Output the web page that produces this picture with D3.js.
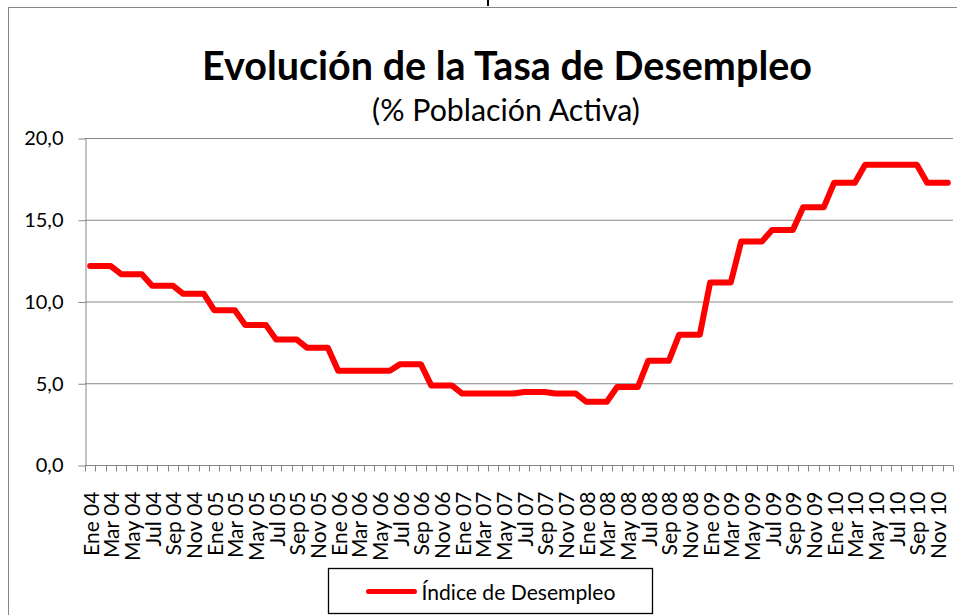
<!DOCTYPE html>
<html>
<head>
<meta charset="utf-8">
<script src="https://cdn.jsdelivr.net/npm/d3@7"></script>
<style>
    body { margin: 0; background: #fff; }
    svg { display: block; font-family: Lato, "Open Sans", sans-serif; }
</style>
</head>
<body>
<svg id="drawing_region"></svg>
<script>
// datos
const months = ["Ene","Feb","Mar","Abr","May","Jun","Jul","Ago","Sep","Oct","Nov","Dic"];
const years = ["04","05","06","07","08","09","10"];
const desempleo = [
    12.2, 12.2, 12.2, 11.7, 11.7, 11.7, 11.0, 11.0, 11.0, 10.5, 10.5, 10.5,   // 2004
     9.5,  9.5,  9.5,  8.6,  8.6,  8.6,  7.7,  7.7,  7.7,  7.2,  7.2,  7.2,   // 2005
     5.8,  5.8,  5.8,  5.8,  5.8,  5.8,  6.2,  6.2,  6.2,  4.9,  4.9,  4.9,   // 2006
     4.4,  4.4,  4.4,  4.4,  4.4,  4.4,  4.5,  4.5,  4.5,  4.4,  4.4,  4.4,   // 2007
     3.9,  3.9,  3.9,  4.8,  4.8,  4.8,  6.4,  6.4,  6.4,  8.0,  8.0,  8.0,   // 2008
    11.2, 11.2, 11.2, 13.7, 13.7, 13.7, 14.4, 14.4, 14.4, 15.8, 15.8, 15.8,   // 2009
    17.3, 17.3, 17.3, 18.4, 18.4, 18.4, 18.4, 18.4, 18.4, 17.3, 17.3, 17.3    // 2010
];
const yticks = [0, 5, 10, 15, 20];
const title = "Evolución de la Tasa de Desempleo";
const subtitle = "(% Población Activa)";
const serie_name = "Índice de Desempleo";

const categories = [];
years.forEach( yy => months.forEach( m => categories.push(m + " " + yy) ) );

const config = {
    width: 957,
    height: 615,
    margin: {top:138.5, right:4, bottom:149.5, left:85}
};

const grey = "#868686";

const svg = d3.select("#drawing_region")
    .attr("width", config.width)
    .attr("height", config.height);

svg.append("rect")
    .attr("width", config.width)
    .attr("height", config.height)
    .attr("fill", "#fff");

// marco del grafico (cortado a la derecha y abajo)
svg.append("rect")
    .attr("x", 8.5)
    .attr("y", 7.5)
    .attr("width", 1000)
    .attr("height", 700)
    .attr("fill", "none")
    .attr("stroke", grey)
    .attr("stroke-width", 1);

// trozo de la letra de arriba que asoma
svg.append("line")
    .attr("x1", 488)
    .attr("x2", 488)
    .attr("y1", 0)
    .attr("y2", 6)
    .attr("stroke", "#000")
    .attr("stroke-width", 2);

function fitWidth( sel, w ) {
    const len = sel.node().getComputedTextLength();
    const fs = parseFloat( sel.style("font-size") );
    sel.style("font-size", (fs * w / len) + "px");
}

// Title
const t = svg.append("text")
    .attr("x", 507)
    .attr("y", 80)
    .attr("text-anchor", "middle")
    .style("font-weight", "bold")
    .style("font-size", "36px")
    .text(title);
fitWidth(t, 610);

const st = svg.append("text")
    .attr("x", 506)
    .attr("y", 121)
    .attr("text-anchor", "middle")
    .style("font-size", "24px")
    .text(subtitle);
fitWidth(st, 268);

const inner_width = 953 - config.margin.left;
const inner_height = 465.5 - config.margin.top;

const chart = svg.append("g")
    .attr("transform", `translate(${config.margin.left}, ${config.margin.top})`);

const xscale = d3.scaleBand()
    .domain(categories)
    .range([0, inner_width])
    .padding(0);

const yscale = d3.scaleLinear()
    .domain([0, 20])
    .range([inner_height, 0]);

// gridlines
chart.append("g")
    .selectAll("line")
    .data(yticks.filter(d => d > 0))
    .join("line")
    .attr("x1", 0)
    .attr("x2", inner_width)
    .attr("y1", d => yscale(d))
    .attr("y2", d => yscale(d))
    .attr("stroke", grey)
    .attr("stroke-width", 1);

// Y axis
const yaxis = d3.axisLeft(yscale)
    .tickValues(yticks)
    .tickFormat(d => d.toFixed(1).replace(".", ","))
    .tickSize(7)
    .tickSizeOuter(0)
    .tickPadding(15);

const yaxis_group = chart.append("g")
    .attr("transform", "translate(0.5, 0)")
    .call(yaxis);
yaxis_group.selectAll("path, line").attr("stroke", grey);
yaxis_group.selectAll("text")
    .attr("fill", "#000")
    .style("font-size", "20px")
    .style("font-family", "Lato, sans-serif");

// X axis
const xaxis_group = chart.append("g")
    .attr("transform", `translate(0, ${inner_height})`);

xaxis_group.append("line")
    .attr("x1", 0)
    .attr("x2", inner_width)
    .attr("stroke", grey);

const tick_pos = categories.map(c => xscale(c)).concat([inner_width]);
xaxis_group.selectAll(".tick")
    .data(tick_pos)
    .join("line")
    .attr("class", "tick")
    .attr("x1", d => Math.round(d) + 0.5)
    .attr("x2", d => Math.round(d) + 0.5)
    .attr("y1", 0)
    .attr("y2", 6)
    .attr("stroke", grey);

xaxis_group.selectAll(".xlabel")
    .data(categories.filter((d, i) => i % 2 === 0))
    .join("text")
    .attr("class", "xlabel")
    .attr("text-anchor", "end")
    .attr("transform", d => `translate(${xscale(d) + xscale.bandwidth() / 2 + 1}, 26) rotate(-90)`)
    .attr("dy", "0.35em")
    .style("font-size", "21px")
    .text(d => d);

// line
const line = d3.line()
    .x((d, i) => xscale(categories[i]) + xscale.bandwidth() / 2)
    .y(d => yscale(d));

chart.append("path")
    .datum(desempleo)
    .attr("d", line)
    .attr("fill", "none")
    .attr("stroke", "#ff0000")
    .attr("stroke-width", 6)
    .attr("stroke-linejoin", "round")
    .attr("stroke-linecap", "round");

// legend
const legend = svg.append("g")
    .attr("transform", "translate(328.5, 568.5)");

legend.append("rect")
    .attr("width", 324)
    .attr("height", 45)
    .attr("fill", "#fff")
    .attr("stroke", "#000")
    .attr("stroke-width", 1.3);

legend.append("line")
    .attr("x1", 40)
    .attr("x2", 86)
    .attr("y1", 23)
    .attr("y2", 23)
    .attr("stroke", "#ff0000")
    .attr("stroke-width", 5)
    .attr("stroke-linecap", "round");

const lt = legend.append("text")
    .attr("x", 93)
    .attr("y", 31)
    .style("font-size", "21px")
    .text(serie_name);
fitWidth(lt, 194);
</script>
</body>
</html>
